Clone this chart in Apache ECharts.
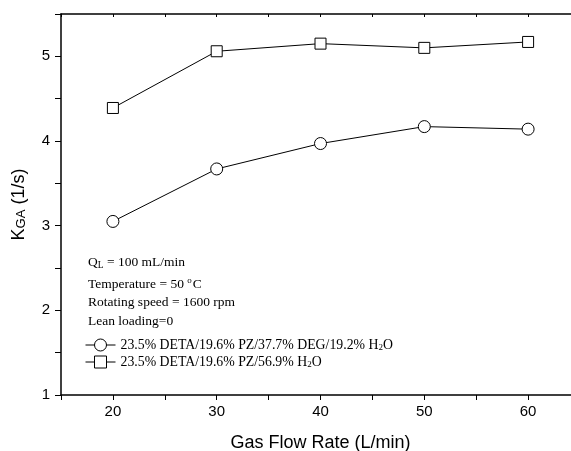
<!DOCTYPE html>
<html>
<head>
<meta charset="utf-8">
<script src="https://cdn.jsdelivr.net/npm/echarts@6/dist/echarts.min.js"></script>
<style>
  html, body { margin: 0; padding: 0; background: #fff; }
  #chart { width: 571px; height: 451px; }
</style>
</head>
<body>
<div id="chart"></div>
<script>
// data
var flowRates = [20, 30, 40, 50, 60]
var kgaDEG = [3.05, 3.67, 3.97, 4.17, 4.14]
var kgaH2O = [4.39, 5.06, 5.15, 5.10, 5.17]
var xTickLabels = [20, 30, 40, 50, 60]
var yTickLabels = [1, 2, 3, 4, 5]
var seriesNames = ['23.5% DETA/19.6% PZ/37.7% DEG/19.2% H2O', '23.5% DETA/19.6% PZ/56.9% H2O']

var serif = '"Liberation Serif", "Times New Roman", serif'
var sans = '"Liberation Sans", Arial, sans-serif'

function pairs(xs, ys) {
    return xs.map(function (x, i) { return [x, ys[i]] })
}

var chart = echarts.init(document.getElementById('chart'))

var noteRich = {
    sub: { fontFamily: serif, fontSize: 9.5, lineHeight: 16, verticalAlign: 'bottom' },
    sup: { fontFamily: serif, fontSize: 9, lineHeight: 9, padding: [0, 1, 7, 0], verticalAlign: 'bottom' }
}

function note(text, y) {
    return {
        type: 'text', left: 88, top: y - 8, silent: true,
        style: { text: text, fontFamily: serif, fontSize: 13.5, lineHeight: 16, fill: '#000', rich: noteRich }
    }
}

var option = {
    animation: false,
    backgroundColor: '#fff',
    grid: { left: 61, right: -9, top: 14, bottom: 56, outerBoundsMode: 'none', containLabel: false },
    xAxis: [{
        type: 'value', min: 15, max: 65, interval: 5,
        name: 'Gas Flow Rate (L/min)', nameLocation: 'middle', nameGap: 39,
        nameTextStyle: { fontFamily: sans, fontSize: 18, color: '#000' },
        axisLine: { lineStyle: { color: '#000', width: 1.5 } },
        axisTick: { inside: false, length: 5, lineStyle: { color: '#000' } },
        axisLabel: {
            margin: 9, fontFamily: sans, fontSize: 15, color: '#000',
            formatter: function (v) { return xTickLabels.indexOf(v) >= 0 ? String(v) : '' }
        },
        splitLine: { show: false }
    }, {
        type: 'value', position: 'top', min: 15, max: 65, interval: 5,
        axisLine: { lineStyle: { color: '#000', width: 1.5 } },
        axisTick: { inside: true, length: 3, lineStyle: { color: '#000' } },
        axisLabel: { show: false },
        splitLine: { show: false }
    }],
    yAxis: {
        type: 'value', min: 1, max: 5.5, interval: 0.5,
        name: '{k|K}{s|GA}{k| (1/s)}', nameLocation: 'middle', nameGap: 33, nameRotate: 90,
        nameTextStyle: {
            color: '#000',
            rich: {
                k: { fontFamily: sans, fontSize: 18, color: '#000' },
                s: { fontFamily: sans, fontSize: 13, color: '#000', verticalAlign: 'bottom' }
            }
        },
        axisLine: { lineStyle: { color: '#000', width: 1.5 } },
        axisTick: { inside: false, length: 6, lineStyle: { color: '#000' } },
        axisLabel: {
            margin: 11, fontFamily: sans, fontSize: 15, color: '#000',
            formatter: function (v) { return yTickLabels.indexOf(v) >= 0 ? String(v) : '' }
        },
        splitLine: { show: false }
    },
    legend: {
        orient: 'vertical', left: 85, top: 338, itemGap: 3, padding: 0,
        itemWidth: 30, itemHeight: 15,
        data: seriesNames,
        lineStyle: { width: 1 },
        itemStyle: { borderWidth: 1 },
        formatter: function (name) { return name.replace('H2O', 'H{sub|2}O') },
        textStyle: {
            fontFamily: serif, fontSize: 13.8, color: '#000',
            rich: { sub: { fontFamily: serif, fontSize: 9, color: '#000', verticalAlign: 'bottom' } }
        }
    },
    graphic: [
        note('Q{sub|L} = 100 mL/min', 262),
        note('Temperature = 50 {sup|o}C', 284),
        note('Rotating speed = 1600 rpm', 302),
        note('Lean loading=0', 321)
    ],
    series: [{
        name: seriesNames[0], type: 'line', data: pairs(flowRates, kgaDEG),
        symbol: 'circle', symbolSize: 12, showAllSymbol: true,
        lineStyle: { color: '#000', width: 1 },
        itemStyle: { color: '#fff', borderColor: '#000', borderWidth: 1 }
    }, {
        name: seriesNames[1], type: 'line', data: pairs(flowRates, kgaH2O),
        symbol: 'rect', symbolSize: 11, showAllSymbol: true,
        lineStyle: { color: '#000', width: 1 },
        itemStyle: { color: '#fff', borderColor: '#000', borderWidth: 1 }
    }]
}

chart.setOption(option)
</script>
</body>
</html>
